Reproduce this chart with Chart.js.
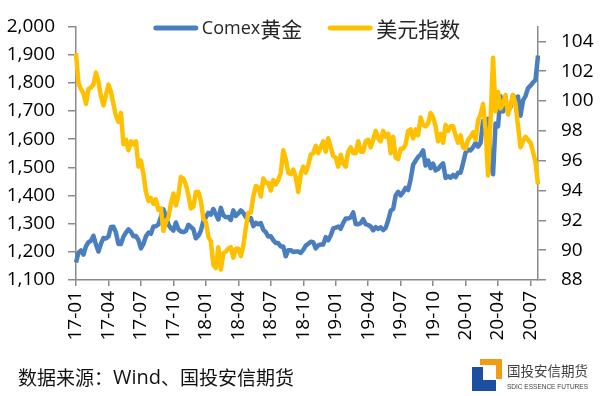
<!DOCTYPE html>
<html>
<head>
<meta charset="utf-8">
<script src="https://cdn.jsdelivr.net/npm/chart.js@4.4.1/dist/chart.umd.min.js"></script>
<style>
  html, body { margin: 0; padding: 0; background: #fff; }
  #wrap { width: 600px; height: 396px; }
</style>
</head>
<body>
<div id="wrap"><canvas id="chart" width="600" height="396"></canvas></div>
<script>
/* global Chart */
// weekly closes, first Friday of 2017 to late July 2020
const firstWeek = '2017-01-06';

const goldLabel = 'Comex黄金';
const goldValues = [
  // 2017
  1162, 1197, 1205, 1190, 1220, 1234, 1239, 1257, 1226, 1201, 1229, 1249, 1247,
  1254, 1288, 1289, 1268, 1228, 1228, 1254, 1268, 1280, 1271, 1255, 1256, 1242,
  1212, 1228, 1255, 1268, 1264, 1290, 1291, 1297, 1325, 1351, 1325, 1297, 1284,
  1275, 1304, 1280, 1272, 1270, 1274, 1296, 1288, 1280, 1248, 1257, 1275, 1309,
  // 2018
  1322, 1338, 1332, 1352, 1333, 1315, 1356, 1330, 1323, 1324, 1313, 1347, 1327,
  1336, 1347, 1338, 1323, 1314, 1320, 1291, 1303, 1298, 1302, 1278, 1270, 1254,
  1255, 1241, 1231, 1231, 1219, 1219, 1184, 1206, 1206, 1199, 1201, 1201, 1196,
  1207, 1222, 1229, 1236, 1234, 1212, 1223, 1226, 1226, 1252, 1241, 1258, 1283,
  // 2019
  1286, 1290, 1282, 1303, 1318, 1318, 1322, 1340, 1299, 1298, 1302, 1316, 1298,
  1295, 1290, 1276, 1288, 1281, 1287, 1277, 1285, 1311, 1346, 1352, 1400, 1413,
  1400, 1412, 1427, 1419, 1457, 1509, 1523, 1537, 1545, 1560, 1506, 1524, 1497,
  1513, 1489, 1494, 1505, 1514, 1462, 1468, 1463, 1473, 1465, 1481, 1481, 1515,
  // 2020
  1552, 1562, 1560, 1571, 1587, 1573, 1586, 1665, 1620, 1672, 1516, 1475, 1655,
  1645, 1752, 1698, 1735, 1700, 1714, 1756, 1735, 1751, 1683, 1737, 1753, 1781,
  1790, 1801, 1810, 1897,
];

const dxyLabel = '美元指数';
const dxyValues = [
  // 2017
  103.2, 101.2, 100.8, 100.5, 99.8, 100.8, 100.9, 101.1, 101.9, 101.3, 100.3, 99.7, 100.4,
  101.1, 100.6, 99.8, 99.0, 98.6, 99.2, 97.1, 97.4, 96.7, 97.3, 97.1, 97.3, 95.6,
  96.0, 95.1, 93.9, 93.3, 93.5, 93.1, 93.4, 92.7, 92.8, 91.3, 91.9, 92.2, 93.1,
  93.8, 93.0, 93.7, 94.9, 94.8, 94.4, 93.7, 92.8, 92.9, 93.9, 93.9, 93.3, 92.1,
  // 2018
  91.9, 90.9, 90.6, 89.0, 88.8, 90.2, 88.7, 89.8, 89.9, 90.1, 90.2, 89.5, 90.1,
  90.1, 89.6, 90.3, 91.5, 92.5, 92.5, 93.6, 94.3, 94.2, 93.6, 94.8, 94.5, 94.5,
  94.0, 94.7, 94.4, 94.7, 95.2, 96.7, 96.1, 95.2, 95.1, 95.4, 94.9, 93.9, 95.1,
  95.6, 95.2, 95.7, 96.4, 96.5, 97.0, 96.5, 96.9, 97.3, 96.6, 97.5, 96.9, 96.3,
  // 2019
  96.2, 95.6, 96.4, 95.8, 95.6, 96.6, 96.9, 96.5, 96.5, 97.3, 96.6, 96.6, 97.3,
  97.4, 96.9, 97.4, 98.0, 97.5, 97.3, 98.0, 97.6, 97.8, 96.5, 97.6, 96.2, 96.1,
  96.8, 96.8, 97.1, 98.0, 98.1, 97.5, 98.1, 97.7, 98.9, 98.4, 98.3, 98.5, 99.2,
  98.9, 98.3, 97.3, 97.8, 97.2, 98.4, 98.0, 98.3, 98.3, 97.7, 97.2, 97.7, 96.9,
  // 2020
  96.8, 97.4, 97.6, 97.9, 97.4, 98.7, 99.1, 99.8, 98.1, 95.0, 98.7, 102.9, 99.3,
  100.6, 99.5, 99.8, 100.4, 99.1, 99.7, 100.4, 99.8, 98.3, 96.9, 97.3, 97.6, 97.4,
  97.2, 96.6, 95.9, 94.4,
];

const goldTicks = [1100, 1200, 1300, 1400, 1500, 1600, 1700, 1800, 1900, 2000];
const dxyTicks = [88, 90, 92, 94, 96, 98, 100, 102, 104];
const quarterMonths = [1, 4, 7, 10];

const footerText = '数据来源：Wind、国投安信期货';
const logoName = '国投安信期货';
const logoSub = 'SDIC ESSENCE FUTURES';

const BLUE = '#4a7ebf';
const YELLOW = '#ffc000';
const AXIS = '#8a8a8a';
const LATIN = '"Open Sans", "Noto Sans", sans-serif';
const CJK = '"Noto Sans CJK SC", sans-serif';

function weekLabels(start, count) {
  const out = [];
  const d = new Date(`${start}T00:00:00Z`);
  for (let i = 0; i < count; i += 1) {
    out.push(d.toISOString().slice(0, 10));
    d.setUTCDate(d.getUTCDate() + 7);
  }
  return out;
}

const labels = weekLabels(firstWeek, goldValues.length);

// draw text where latin and CJK runs use different fonts
function mixedRuns(text) {
  return text.match(/[\u0000-\u024f]+|[^\u0000-\u024f]+/g) || [];
}
function isLatin(run) {
  return /[\u0000-\u024f]/.test(run[0]);
}
function measureMixed(ctx, text, latinFont, cjkFont) {
  let w = 0;
  mixedRuns(text).forEach((run) => {
    ctx.font = isLatin(run) ? latinFont : cjkFont;
    w += ctx.measureText(run).width;
  });
  return w;
}
function drawMixed(ctx, text, x, y, latinFont, cjkFont) {
  let cx = x;
  mixedRuns(text).forEach((run) => {
    ctx.font = isLatin(run) ? latinFont : cjkFont;
    ctx.fillText(run, cx, y);
    cx += ctx.measureText(run).width;
  });
  return cx;
}

const decorations = {
  id: 'decorations',
  afterDraw(chart) {
    const { ctx, chartArea } = chart;
    ctx.save();
    ctx.textBaseline = 'middle';
    ctx.textAlign = 'left';

    // legend inside the top of the plot
    const latinL = `18px ${LATIN}`;
    const cjkL = `21px ${CJK}`;
    const items = [
      { text: goldLabel, color: BLUE },
      { text: dxyLabel, color: YELLOW },
    ];
    const lineLen = 44;
    const gap = 4;
    const itemGap = 26;
    const widths = items.map((it) => measureMixed(ctx, it.text, latinL, cjkL));
    const total = widths.reduce((a, w) => a + lineLen + gap + w, 0) + itemGap;
    let x = (chartArea.left + chartArea.right) / 2 - total / 2;
    const ly = 28;
    items.forEach((it, i) => {
      ctx.strokeStyle = it.color;
      ctx.lineWidth = 5;
      ctx.lineCap = 'round';
      ctx.beginPath();
      ctx.moveTo(x + 2, ly);
      ctx.lineTo(x + lineLen - 2, ly);
      ctx.stroke();
      ctx.fillStyle = '#262626';
      drawMixed(ctx, it.text, x + lineLen + gap, ly + 1, latinL, cjkL);
      x += lineLen + gap + widths[i] + itemGap;
    });

    // source note
    ctx.fillStyle = '#111';
    drawMixed(ctx, footerText, 18, 378, `20px ${LATIN}`, `19px ${CJK}`);

    // company mark
    ctx.fillStyle = '#1c4f9f';
    ctx.beginPath();
    ctx.moveTo(472, 367);
    ctx.lineTo(483, 367);
    ctx.lineTo(483, 380);
    ctx.lineTo(496, 380);
    ctx.lineTo(496, 391);
    ctx.lineTo(472, 391);
    ctx.closePath();
    ctx.fill();
    ctx.fillStyle = '#f29c16';
    ctx.beginPath();
    ctx.moveTo(480, 359);
    ctx.lineTo(502, 359);
    ctx.lineTo(502, 379);
    ctx.lineTo(496, 379);
    ctx.lineTo(496, 365);
    ctx.lineTo(480, 365);
    ctx.closePath();
    ctx.fill();

    ctx.fillStyle = '#3d3d3d';
    ctx.font = `13.5px ${CJK}`;
    ctx.fillText(logoName, 507, 371, 82);
    ctx.font = '8px "Liberation Sans", sans-serif';
    ctx.fillText(logoSub, 507, 387, 81);
    ctx.restore();
  },
};

const tickFont = { family: LATIN, size: 19 };

new Chart(document.getElementById('chart'), {
  type: 'line',
  data: {
    labels,
    datasets: [
      {
        label: goldLabel,
        data: goldValues,
        yAxisID: 'y',
        borderColor: BLUE,
        borderWidth: 4.5,
        borderJoinStyle: 'round',
        pointRadius: 0,
        tension: 0,
        order: 1,
      },
      {
        label: dxyLabel,
        data: dxyValues,
        yAxisID: 'y1',
        borderColor: YELLOW,
        borderWidth: 4.5,
        borderJoinStyle: 'round',
        pointRadius: 0,
        tension: 0,
        order: 0,
      },
    ],
  },
  options: {
    responsive: false,
    animation: false,
    devicePixelRatio: 1,
    layout: { padding: { top: 16, left: 0, right: 0, bottom: 0 } },
    plugins: {
      legend: { display: false },
      tooltip: { enabled: false },
    },
    scales: {
      x: {
        type: 'category',
        grid: { drawOnChartArea: false, drawTicks: true, tickLength: 6, color: AXIS, lineWidth: 1.5 },
        border: { color: AXIS, width: 1.5 },
        ticks: {
          autoSkip: false,
          minRotation: 90,
          maxRotation: 90,
          padding: 5,
          color: '#000',
          font: tickFont,
          callback: (v) => {
            const s = labels[v];
            return `${s.slice(2, 4)}-${s.slice(5, 7)}`;
          },
        },
        afterBuildTicks(scale) {
          let last = '';
          scale.ticks = scale.ticks.filter((t) => {
            const s = labels[t.value];
            const ym = s.slice(0, 7);
            if (ym === last || !quarterMonths.includes(Number(s.slice(5, 7)))) return false;
            last = ym;
            return true;
          });
        },
        afterFit(scale) {
          scale.height = 116;
        },
      },
      y: {
        position: 'left',
        min: 1100,
        max: 2000,
        grid: { drawOnChartArea: false, drawTicks: true, tickLength: 8, color: AXIS, lineWidth: 1.5 },
        border: { color: AXIS, width: 1.5 },
        ticks: {
          padding: 13,
          color: '#000',
          font: tickFont,
          callback: (v) => v.toLocaleString('en-US'),
        },
        afterBuildTicks(scale) {
          scale.ticks = goldTicks.map((value) => ({ value }));
        },
        afterFit(scale) {
          scale.width = 76;
        },
      },
      y1: {
        position: 'right',
        min: 88,
        max: 105,
        grid: { drawOnChartArea: false, drawTicks: true, tickLength: 8, color: AXIS, lineWidth: 1.5 },
        border: { color: AXIS, width: 1.5 },
        ticks: {
          padding: 15,
          color: '#000',
          font: tickFont,
        },
        afterBuildTicks(scale) {
          scale.ticks = dxyTicks.map((value) => ({ value }));
        },
        afterFit(scale) {
          scale.width = 62;
        },
      },
    },
  },
  plugins: [decorations],
});
</script>
</body>
</html>
